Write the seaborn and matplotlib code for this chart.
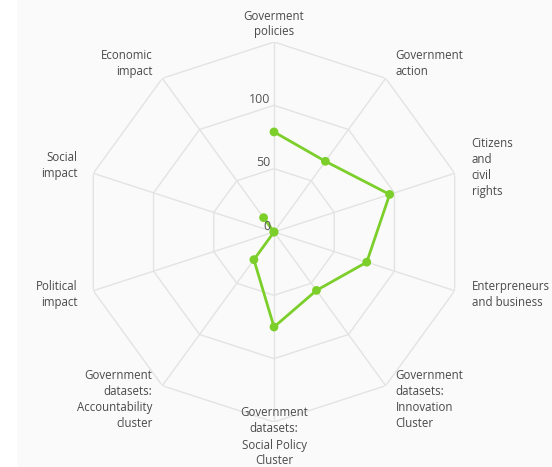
import numpy as np
import pandas as pd
import matplotlib
matplotlib.use("Agg")
import matplotlib.pyplot as plt
import seaborn as sns
from matplotlib.patches import Rectangle

categories = [
    "Goverment\npolicies",
    "Government\naction",
    "Citizens\nand\ncivil\nrights",
    "Enterpreneurs\nand business",
    "Government\ndatasets:\nInnovation\nCluster",
    "Government\ndatasets:\nSocial Policy\nCluster",
    "Government\ndatasets:\nAccountability\ncluster",
    "Political\nimpact",
    "Social\nimpact",
    "Economic\nimpact",
]
values = [79, 69, 96, 77, 57, 75, 27, 0, 0, 14]
ring_levels = [50, 100, 150]
tick_labels = ["0", "50", "100"]
tick_values = [0, 50, 100]

sns.set_style("white")
plt.rcParams["font.family"] = ["Open Sans", "DejaVu Sans"]

n = len(categories)
theta = np.arange(n) * 2 * np.pi / n
rmax = 150

fig = plt.figure(figsize=(5.52, 4.67), dpi=100)
fig.patch.set_facecolor("#fafafa")
fig.patches.append(Rectangle((0, 0), 17 / 552, 1, transform=fig.transFigure,
                             facecolor="white", edgecolor="none", zorder=-1))

ax = fig.add_axes([84 / 552, 45 / 467, 380 / 552, 380 / 467], projection="polar")
ax.set_facecolor("none")
ax.set_theta_zero_location("N")
ax.set_theta_direction(-1)
ax.set_ylim(0, rmax)
ax.grid(False)
ax.spines["polar"].set_visible(False)
ax.set_xticks([])
ax.set_yticks([])

grid_c = "#e3e3e3"
tc = np.append(theta, theta[0])
for lvl in ring_levels:
    ax.plot(tc, [lvl] * len(tc), color=grid_c, lw=1.0, zorder=1)
for t in theta:
    ax.plot([t, t], [0, rmax], color=grid_c, lw=1.0, zorder=1)

df = pd.DataFrame({"theta": np.append(theta, theta[0]),
                   "value": values + [values[0]]})
green = "#7ccf2a"
sns.lineplot(data=df, x="theta", y="value", sort=False, ax=ax,
             color=green, lw=2.0, zorder=3)
sns.scatterplot(x=theta, y=values, ax=ax, color=green, s=40,
                edgecolor="none", zorder=4)
ax.set_xlabel("")
ax.set_ylabel("")
ax.set_ylim(0, rmax)

for tv, tl in zip(tick_values, tick_labels):
    ax.annotate(tl, xy=(0, tv), xytext=(-4, 6), textcoords="offset pixels",
                ha="right", va="center", fontsize=9, color="#555555", zorder=5)

offs = [
    (0, 18, "center"),
    (10, 15, "left"),
    (17, 6, "left"),
    (17, -4, "left"),
    (10, -14, "left"),
    (0, -15, "center"),
    (-10, -14, "right"),
    (-16, -4, "right"),
    (-16, 8, "right"),
    (-10, 15, "right"),
]
for t, lab, (dx, dy, ha) in zip(theta, categories, offs):
    ax.annotate(lab, xy=(t, rmax), xytext=(dx, dy), textcoords="offset pixels",
                ha=ha, va="center", fontsize=8.3, color="#4a4a4a",
                linespacing=1.3, multialignment=ha, annotation_clip=False)

fig.savefig("out.png", dpi=100, facecolor=fig.get_facecolor())
